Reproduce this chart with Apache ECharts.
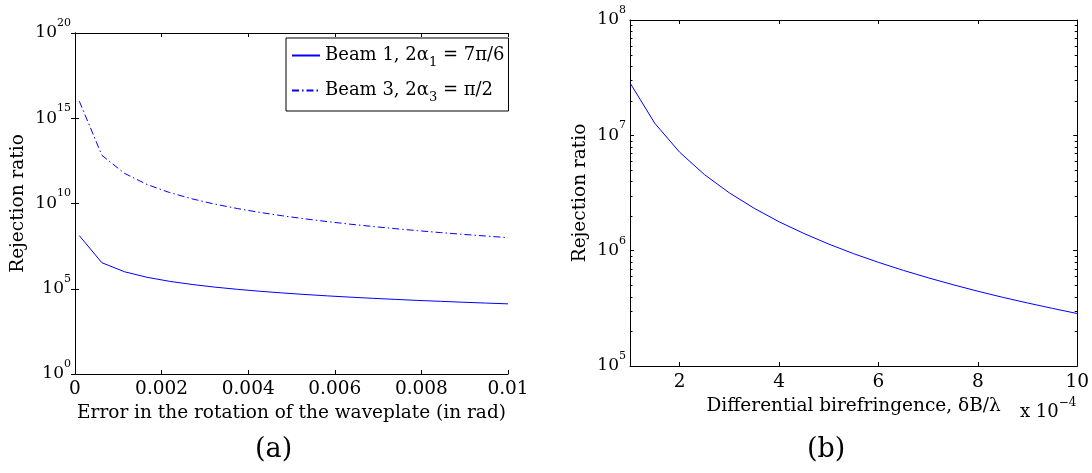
<!DOCTYPE html>
<html>
<head>
<meta charset="utf-8">
<script src="https://cdn.jsdelivr.net/npm/echarts@6/dist/echarts.min.js"></script>
<style>
html,body{margin:0;padding:0;background:#fff;}
#chart{width:1092px;height:473px;}
</style>
</head>
<body>
<div id="chart"></div>
<script>
// ---- Panel (a) data ----
const errA = [0.0001, 0.000621, 0.001142, 0.001663, 0.002184, 0.002705, 0.003226, 0.003747, 0.004268, 0.004789,
              0.005311, 0.005832, 0.006353, 0.006874, 0.007395, 0.007916, 0.008437, 0.008958, 0.009479, 0.01];
const beam1 = [1.3e8, 3.37e6, 9.97e5, 4.70e5, 2.73e5, 1.78e5, 1.25e5, 9.26e4, 7.14e4, 5.67e4,
               4.61e4, 3.82e4, 3.22e4, 2.75e4, 2.38e4, 2.07e4, 1.83e4, 1.62e4, 1.45e4, 1.3e4];
const beam3 = [1.0e16, 6.73e12, 5.88e11, 1.31e11, 4.39e10, 1.87e10, 9.23e9, 5.07e9, 3.01e9, 1.90e9,
               1.26e9, 8.64e8, 6.14e8, 4.48e8, 3.34e8, 2.55e8, 1.97e8, 1.55e8, 1.24e8, 1.0e8];
const legendA = ['{t|Beam 1, 2α}{sub|1}{t| = 7π/6}', '{t|Beam 3, 2α}{sub|3}{t| = π/2}'];
const seriesNamesA = ['Beam 1', 'Beam 3'];
const xTicksA = [0, 0.002, 0.004, 0.006, 0.008, 0.01];
const yExpTicksA = [0, 5, 10, 15, 20];

// ---- Panel (b) data (x in units of 1e-4) ----
const birefB = [1, 1.5, 2, 2.5, 3, 3.5, 4, 4.5, 5, 5.5, 6, 6.5, 7, 7.5, 8, 8.5, 9, 9.5, 10];
const rejB = [2.85e7, 1.27e7, 7.13e6, 4.56e6, 3.17e6, 2.33e6, 1.78e6, 1.41e6, 1.14e6, 9.42e5,
              7.92e5, 6.75e5, 5.82e5, 5.07e5, 4.45e5, 3.94e5, 3.52e5, 3.16e5, 2.85e5];
const xTicksB = [2, 4, 6, 8, 10];
const yExpTicksB = [5, 6, 7, 8];
const minorTicksB = [2e5, 3e5, 4e5, 5e5, 6e5, 7e5, 8e5, 9e5,
                     2e6, 3e6, 4e6, 5e6, 6e6, 7e6, 8e6, 9e6,
                     2e7, 3e7, 4e7, 5e7, 6e7, 7e7, 8e7, 9e7];

const FONT = 'DejaVu Serif';
const BLUE = '#0000ff';
const TXT = 18.5;

const supRich = {
  b: {fontFamily: FONT, fontSize: 17, lineHeight: 17, color: '#000'},
  s: {fontFamily: FONT, fontSize: 11, lineHeight: 11, padding: [0, 0, 20, 0], color: '#000'}
};
function powLabel(allowed) {
  return function (v) {
    const e = Math.round(Math.log10(v));
    if (allowed.indexOf(e) < 0) return '';
    return '{b|10}{s|' + e + '}';
  };
}

const axisLineStyle = {show: true, lineStyle: {color: '#000', width: 1}};
const tickIn = {show: true, inside: true, length: 4, lineStyle: {color: '#000', width: 1}};

function mirrorX(gridIndex, min, max, interval) {
  const ax = {type: 'value', gridIndex: gridIndex, position: 'top', min: min, max: max,
          axisLine: axisLineStyle, axisTick: tickIn, axisLabel: {show: false}, splitLine: {show: false}};
  if (interval) ax.interval = interval;
  return ax;
}
function mirrorY(gridIndex, min, max, interval) {
  return {type: 'log', logBase: 10, gridIndex: gridIndex, position: 'right', min: min, max: max, interval: interval,
          axisLine: axisLineStyle, axisTick: tickIn, axisLabel: {show: false}, splitLine: {show: false}};
}

const chart = echarts.init(document.getElementById('chart'), null, {renderer: 'canvas'});

const option = {
  animation: false,
  backgroundColor: '#fff',
  textStyle: {fontFamily: FONT},
  grid: [
    {left: 75, top: 33, width: 433, height: 341},
    {left: 630, top: 20, width: 448, height: 346}
  ],
  xAxis: [
    {
      type: 'value', gridIndex: 0, min: xTicksA[0], max: xTicksA[xTicksA.length - 1], interval: 0.002,
      name: 'Error in the rotation of the waveplate (in rad)', nameLocation: 'middle', nameGap: 27,
      nameTextStyle: {fontFamily: FONT, fontSize: TXT, color: '#000'},
      axisLine: axisLineStyle, axisTick: tickIn,
      axisLabel: {fontFamily: FONT, fontSize: TXT, color: '#000', margin: 6,
                  formatter: function (v) { return String(+v.toFixed(3)); }},
      splitLine: {show: false}
    },
    mirrorX(0, 0, 0.01, 0.002),
    {
      type: 'value', gridIndex: 1, min: birefB[0], max: xTicksB[xTicksB.length - 1],
      name: 'Differential birefringence, δB/λ', nameLocation: 'middle', nameGap: 31,
      nameTextStyle: {fontFamily: FONT, fontSize: TXT, color: '#000'},
      axisLine: axisLineStyle, axisTick: tickIn,
      axisLabel: {fontFamily: FONT, fontSize: TXT, color: '#000', margin: 7,
                  formatter: function (v) { return xTicksB.indexOf(v) >= 0 ? String(v) : ''; }},
      splitLine: {show: false}
    },
    mirrorX(1, 1, 10, null)
  ],
  yAxis: [
    {
      type: 'log', logBase: 10, gridIndex: 0, min: 1, max: 1e20, interval: 5,
      name: 'Rejection ratio', nameLocation: 'middle', nameGap: 47, nameRotate: 90,
      nameTextStyle: {fontFamily: FONT, fontSize: TXT, color: '#000'},
      axisLine: axisLineStyle, axisTick: tickIn,
      axisLabel: {margin: 4, formatter: powLabel(yExpTicksA), rich: supRich},
      splitLine: {show: false}
    },
    mirrorY(0, 1, 1e20, 5),
    {
      type: 'log', logBase: 10, gridIndex: 1, min: 1e5, max: 1e8, interval: 1,
      name: 'Rejection ratio', nameLocation: 'middle', nameGap: 40, nameRotate: 90,
      nameTextStyle: {fontFamily: FONT, fontSize: TXT, color: '#000'},
      axisLine: axisLineStyle, axisTick: tickIn,
      axisLabel: {margin: 4, formatter: powLabel(yExpTicksB), rich: supRich},
      splitLine: {show: false}
    },
    mirrorY(1, 1e5, 1e8, 1)
  ],
  legend: {
    data: seriesNamesA,
    orient: 'vertical',
    left: 286, top: 38,
    padding: [4, 4, 7, 5],
    itemGap: 8,
    itemWidth: 28, itemHeight: 14,
    itemStyle: {opacity: 0},
    backgroundColor: '#fff',
    borderColor: '#000', borderWidth: 1, borderRadius: 0,
    formatter: function (name) { return legendA[seriesNamesA.indexOf(name)]; },
    textStyle: {
      fontFamily: FONT, fontSize: 18, color: '#000',
      rich: {
        t: {fontFamily: FONT, fontSize: 18, lineHeight: 18, color: '#000'},
        sub: {fontFamily: FONT, fontSize: 13, lineHeight: 13, padding: [14, 0, 0, 0], color: '#000'}
      }
    }
  },
  graphic: [
    {type: 'text', left: 255, top: 436, style: {text: '(a)', fontFamily: FONT, fontSize: 27, fill: '#000'}},
    {type: 'text', left: 807, top: 436, style: {text: '(b)', fontFamily: FONT, fontSize: 27, fill: '#000'}},
    {type: 'text', left: 1020, top: 397, style: {
      text: '{b|x 10}{s|−4}', fontFamily: FONT, fill: '#000',
      rich: {
        b: {fontFamily: FONT, fontSize: 18, lineHeight: 18, fill: '#000'},
        s: {fontFamily: FONT, fontSize: 12, lineHeight: 12, padding: [0, 0, 18, 0], fill: '#000'}
      }
    }}
  ],
  series: [
    {
      name: seriesNamesA[0], type: 'line', xAxisIndex: 0, yAxisIndex: 0, symbol: 'none',
      lineStyle: {color: BLUE, width: 1, type: 'solid'}, itemStyle: {color: BLUE},
      data: errA.map(function (x, i) { return [x, beam1[i]]; })
    },
    {
      name: seriesNamesA[1], type: 'line', xAxisIndex: 0, yAxisIndex: 0, symbol: 'none',
      lineStyle: {color: BLUE, width: 1, type: [7, 3, 1.5, 3]}, itemStyle: {color: BLUE},
      data: errA.map(function (x, i) { return [x, beam3[i]]; })
    },
    {
      name: 'Panel b', type: 'line', xAxisIndex: 2, yAxisIndex: 2, symbol: 'none',
      lineStyle: {color: BLUE, width: 1}, itemStyle: {color: BLUE},
      data: birefB.map(function (x, i) { return [x, rejB[i]]; })
    },
    {
      name: 'minor', type: 'custom', xAxisIndex: 2, yAxisIndex: 2, silent: true, clip: false,
      data: minorTicksB.map(function (v) { return [birefB[0], v]; }),
      renderItem: function (params, api) {
        const v = api.value(1);
        const pl = api.coord([birefB[0], v]);
        const pr = api.coord([xTicksB[xTicksB.length - 1], v]);
        const y = Math.round(pl[1]) + 0.5;
        return {
          type: 'group',
          children: [
            {type: 'line', shape: {x1: pl[0], y1: y, x2: pl[0] + 2.5, y2: y}, style: {stroke: '#000', lineWidth: 1}},
            {type: 'line', shape: {x1: pr[0] - 2.5, y1: y, x2: pr[0], y2: y}, style: {stroke: '#000', lineWidth: 1}}
          ]
        };
      }
    }
  ]
};
chart.setOption(option);
</script>
</body>
</html>
